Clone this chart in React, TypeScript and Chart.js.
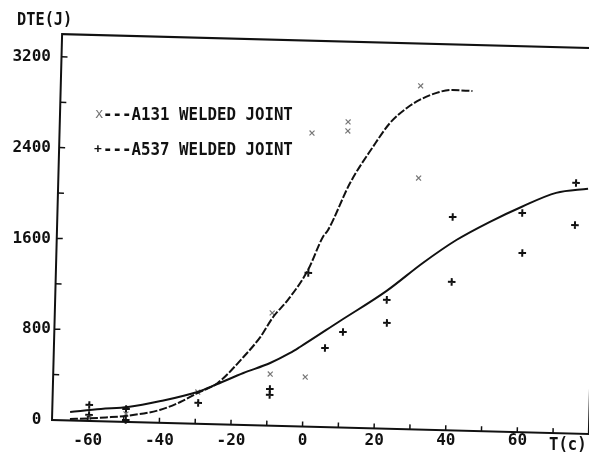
import { useEffect, useRef } from 'react';
import { Chart, registerables } from 'chart.js';

Chart.register(...registerables);

// ---- data (temperature in °C, energy in J) ----
const a131Temps = [-59.7, -49.4, -29.5, -9.3, -9.4, 0.4, 0.5, 10.5, 10.5, 30.5, 30.6];
const a131Energy = [26, 70, 280, 993, 455, 437, 2587, 2693, 2613, 3027, 2215];

const a537Temps = [-59.7, -59.7, -49.4, -49.4, -29.3, -9.4, -9.4, 0.5, 5.7, 10.6, 22.6, 22.8, 40.4, 40.6, 59.8, 60.1, 74.6, 74.6];
const a537Energy = [141, 53, 114, 17, 184, 323, 271, 1354, 697, 842, 1135, 932, 1880, 1308, 1931, 1579, 2208, 1837];

const a131FitTemps = [-65, -60, -55, -49, -40, -34.3, -29.6, -24, -17, -12.4, -9, -5, 0.4, 4.3, 5.7, 11.5, 17.6, 22.2, 26.8, 30.3, 35.8, 39.4, 45];
const a131FitEnergy = [13, 22, 35, 55, 113, 188, 271, 364, 599, 780, 958, 1112, 1381, 1674, 1737, 2155, 2478, 2693, 2829, 2903, 2978, 2998, 2994];

const a537FitTemps = [-65, -56.4, -48.9, -39.8, -29.6, -24.1, -16.9, -9.5, -4, -1.3, 9.7, 22.5, 32.4, 41.6, 50.7, 59.5, 69.1, 78];
const a537FitEnergy = [75, 108, 132, 192, 280, 355, 458, 552, 645, 700, 938, 1214, 1468, 1678, 1844, 1984, 2116, 2160];

const xLabelValues = [-60, -40, -20, 0, 20, 40, 60];
const yLabelValues = [0, 800, 1600, 2400, 3200];
const xMarkValues = [-60, -50, -40, -30, -20, -10, 0, 10, 20, 30, 40, 50, 60, 70];
const yMarkValues = [400, 800, 1200, 1600, 2000, 2400, 2800, 3200];

const yTitle = 'DTE(J)';
const xTitle = 'T(c)';
const legendA131 = '---A131 WELDED JOINT';
const legendA537 = '---A537 WELDED JOINT';

const FONT = 'DejaVu Sans Mono';
const TILT = (1.5 * Math.PI) / 180;

const pts = (xs: number[], ys: number[]) => xs.map((x, i) => ({ x, y: ys[i] }));

export default function App() {
  const ref = useRef<HTMLCanvasElement>(null);

  useEffect(() => {
    const canvas = ref.current!;

    const tilt = (chart: any) => {
      const { ctx, chartArea: a } = chart;
      ctx.translate(a.left, a.bottom);
      ctx.rotate(TILT);
      ctx.translate(-a.left, -a.bottom);
    };

    const condensed = (ctx: any, text: string, x: number, y: number, sx: number) => {
      ctx.save();
      ctx.translate(x, y);
      ctx.scale(sx, 1);
      ctx.fillText(text, 0, 0);
      ctx.restore();
    };

    const plotter = {
      id: 'plotter',
      beforeDatasetsDraw(chart: any) {
        chart.ctx.save();
        tilt(chart);
      },
      afterDatasetsDraw(chart: any) {
        const { ctx, chartArea: a, scales } = chart;
        ctx.setLineDash([]);
        ctx.strokeStyle = '#111';
        ctx.lineWidth = 2;
        ctx.strokeRect(a.left, a.top, a.right - a.left, a.bottom - a.top);
        ctx.lineWidth = 1.5;
        ctx.beginPath();
        xMarkValues.forEach((v) => {
          const x = scales.x.getPixelForValue(v);
          ctx.moveTo(x, a.bottom);
          ctx.lineTo(x, a.bottom - 5);
        });
        yMarkValues.forEach((v) => {
          const y = scales.y.getPixelForValue(v);
          ctx.moveTo(a.left, y);
          ctx.lineTo(a.left + 6, y);
        });
        ctx.stroke();
        ctx.restore();
      },
      afterDraw(chart: any) {
        const { ctx } = chart;
        ctx.save();
        ctx.textBaseline = 'middle';
        ctx.textAlign = 'left';
        ctx.fillStyle = '#111';
        ctx.font = `bold 17px "${FONT}"`;
        condensed(ctx, yTitle, 17, 21, 0.9);
        condensed(ctx, xTitle, 549, 446, 0.92);
        ctx.font = `bold 18px "${FONT}"`;
        condensed(ctx, legendA131, 103, 115, 0.876);
        condensed(ctx, legendA537, 103, 150, 0.876);
        ctx.font = `14px "${FONT}"`;
        ctx.fillStyle = '#777';
        ctx.fillText('x', 95, 114);
        ctx.font = `bold 13px "${FONT}"`;
        ctx.fillStyle = '#111';
        ctx.fillText('+', 94, 150);
        ctx.restore();
      },
    };

    const tickFont = { family: FONT, size: 16, weight: 'bold' as const };

    const chart = new Chart(canvas, {
      type: 'scatter',
      data: {
        datasets: [
          {
            label: 'A131 fit',
            data: pts(a131FitTemps, a131FitEnergy),
            showLine: true,
            borderColor: '#111',
            borderWidth: 2,
            borderDash: [8, 2],
            pointRadius: 0,
            cubicInterpolationMode: 'monotone',
            clip: false,
          },
          {
            label: 'A537 fit',
            data: pts(a537FitTemps, a537FitEnergy),
            showLine: true,
            borderColor: '#111',
            borderWidth: 2,
            pointRadius: 0,
            cubicInterpolationMode: 'monotone',
            clip: false,
          },
          {
            label: 'A131 WELDED JOINT',
            data: pts(a131Temps, a131Energy),
            pointStyle: 'crossRot',
            pointRadius: 3.5,
            borderColor: '#777',
            borderWidth: 1.2,
            clip: false,
          },
          {
            label: 'A537 WELDED JOINT',
            data: pts(a537Temps, a537Energy),
            pointStyle: 'cross',
            pointRadius: 3.8,
            borderColor: '#111',
            borderWidth: 2,
            clip: false,
          },
        ],
      } as any,
      options: {
        animation: false,
        responsive: false,
        layout: { padding: { top: 34, right: 11, left: 0, bottom: 0 } },
        plugins: { legend: { display: false }, tooltip: { enabled: false } },
        scales: {
          x: {
            type: 'linear',
            min: -70,
            max: 80,
            grid: { display: false, drawTicks: false },
            border: { display: false },
            afterBuildTicks: (s: any) => {
              s.ticks = xLabelValues.map((value) => ({ value }));
            },
            afterFit: (s: any) => {
              s.height = 41;
            },
            ticks: {
              color: '#111',
              font: tickFont,
              padding: 11,
              maxRotation: 0,
              autoSkip: false,
              callback: (v: any) => String(v),
            },
          },
          y: {
            type: 'linear',
            min: 0,
            max: 3400,
            grid: { display: false, drawTicks: false },
            border: { display: false },
            afterBuildTicks: (s: any) => {
              s.ticks = yLabelValues.map((value) => ({ value }));
            },
            afterFit: (s: any) => {
              s.width = 52;
            },
            ticks: {
              color: '#111',
              font: tickFont,
              padding: 1,
              autoSkip: false,
              callback: (v: any) => (v === 0 ? '0 ' : String(v)),
            },
          },
        },
      },
      plugins: [plotter],
    });

    return () => chart.destroy();
  }, []);

  return (
    <div style={{ position: 'fixed', left: 0, top: 0, width: 600, height: 461, background: '#fff' }}>
      <canvas ref={ref} width={600} height={461} style={{ display: 'block' }} />
    </div>
  );
}
